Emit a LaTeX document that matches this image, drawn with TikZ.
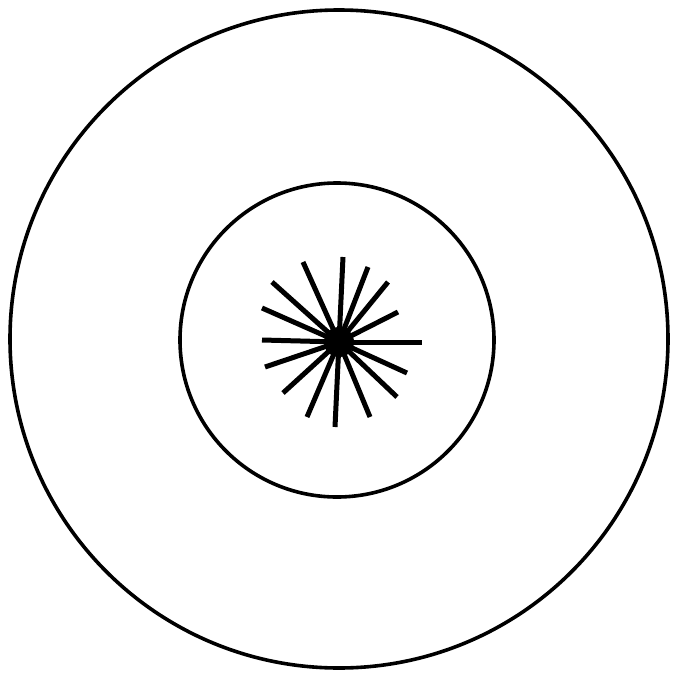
\documentclass[tikz,border=0pt]{standalone}
\begin{document}
\begin{tikzpicture}[x=1pt,y=-1pt,
  ring/.style={draw=black,line width=3.6pt},
  ray/.style={draw=black,line width=5pt,line cap=butt}]
\useasboundingbox (0,0) rectangle (678,675);
\fill[white] (0,0) rectangle (678,675);
\draw[ring] (339,339) circle (329);
\draw[ring] (337,340) circle (157);
\coordinate (c) at (339,342);
\foreach \p in {(343,257),(368,267),(388,282),(398,312),(422,342),(407,373),(397,397),(370,417),(335,427),(307,417),(283,393),(265,367),(262,340),(262,308),(272,282),(303,262)}
  \draw[ray] (c) -- \p;
\fill (c) circle (15);
\end{tikzpicture}
\end{document}
